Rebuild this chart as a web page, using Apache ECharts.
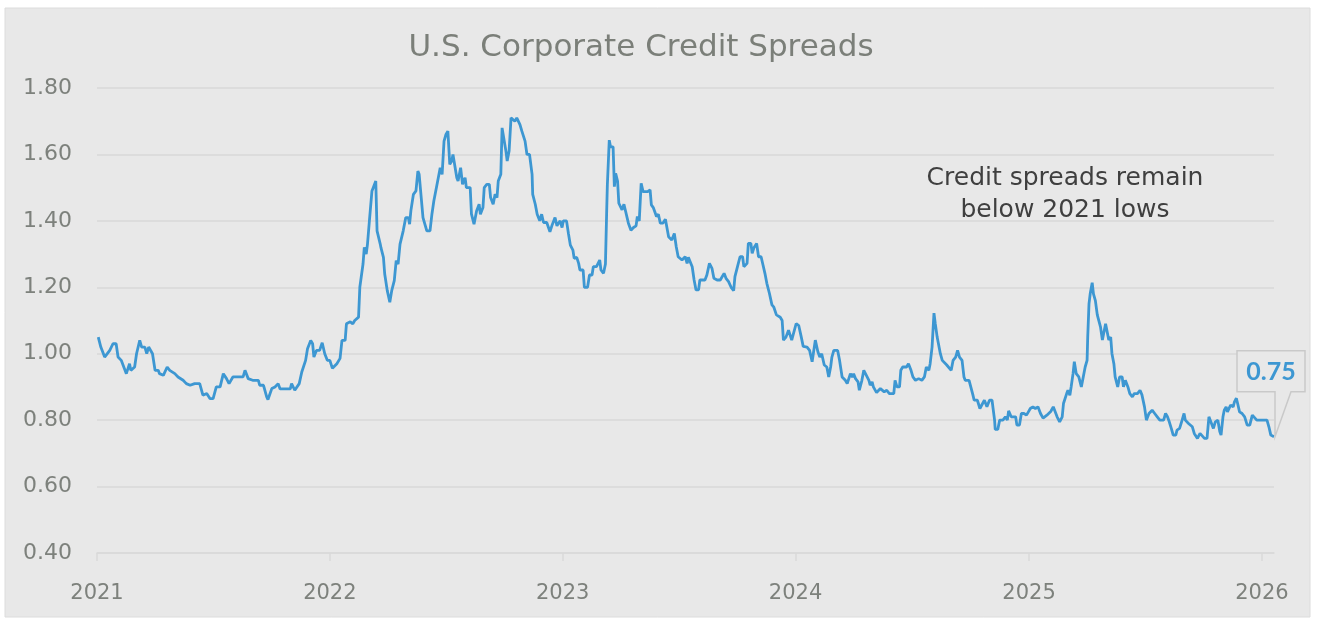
<!DOCTYPE html>
<html>
<head>
<meta charset="utf-8">
<script src="https://cdn.jsdelivr.net/npm/echarts@6/dist/echarts.min.js"></script>
<style>
  html, body { margin: 0; padding: 0; background: #ffffff; }
  #chart { width: 1317px; height: 622px; }
</style>
</head>
<body>
<div id="chart"></div>
<script>
// Corporate credit spread (percentage points), observations by date
const dates = [
  '2021-01-03','2021-01-07','2021-01-13','2021-01-16','2021-01-21','2021-01-26','2021-01-31','2021-02-03','2021-02-08','2021-02-10',
  '2021-02-16','2021-02-21','2021-02-23','2021-03-01','2021-03-04','2021-03-09','2021-03-12','2021-03-17','2021-03-20','2021-03-23',
  '2021-03-29','2021-04-02','2021-04-07','2021-04-09','2021-04-15','2021-04-21','2021-04-25','2021-05-03','2021-05-08','2021-05-16',
  '2021-05-21','2021-05-27','2021-06-03','2021-06-11','2021-06-16','2021-06-22','2021-06-27','2021-07-02','2021-07-07','2021-07-13',
  '2021-07-18','2021-07-23','2021-07-27','2021-08-02','2021-08-18','2021-08-21','2021-08-26','2021-09-02','2021-09-11','2021-09-13',
  '2021-09-19','2021-09-24','2021-09-26','2021-10-02','2021-10-07','2021-10-12','2021-10-15','2021-10-31','2021-11-02','2021-11-07',
  '2021-11-14','2021-11-18','2021-11-21','2021-11-24','2021-11-27','2021-12-02','2021-12-05','2021-12-07','2021-12-11','2021-12-16',
  '2021-12-20','2021-12-24','2021-12-28',
  '2022-01-01','2022-01-05','2022-01-12','2022-01-17','2022-01-20','2022-01-25','2022-01-27','2022-02-02','2022-02-06','2022-02-09',
  '2022-02-12','2022-02-15','2022-02-17','2022-02-20','2022-02-22','2022-02-24','2022-02-27','2022-03-01','2022-03-04','2022-03-08',
  '2022-03-10','2022-03-14','2022-03-16','2022-03-21','2022-03-22','2022-03-26','2022-03-28','2022-04-01','2022-04-05','2022-04-08',
  '2022-04-12','2022-04-15','2022-04-18','2022-04-21','2022-04-26','2022-04-30','2022-05-04','2022-05-06','2022-05-08','2022-05-12',
  '2022-05-16','2022-05-19','2022-05-21','2022-05-24','2022-05-27','2022-05-29','2022-06-02','2022-06-07','2022-06-10','2022-06-13',
  '2022-06-17','2022-06-20','2022-06-23','2022-06-26','2022-06-29','2022-07-02','2022-07-05','2022-07-08','2022-07-11','2022-07-13',
  '2022-07-19','2022-07-21','2022-07-25','2022-07-28','2022-08-01','2022-08-03','2022-08-09','2022-08-11','2022-08-15','2022-08-19',
  '2022-08-23','2022-08-25','2022-08-29','2022-08-31','2022-09-04','2022-09-08','2022-09-10','2022-09-14','2022-09-17','2022-09-20',
  '2022-09-22','2022-09-26','2022-09-28','2022-09-30','2022-10-04','2022-10-06','2022-10-09','2022-10-12','2022-10-15','2022-10-18',
  '2022-10-21','2022-10-26','2022-10-29','2022-11-03','2022-11-06','2022-11-10','2022-11-14','2022-11-15','2022-11-19','2022-11-22',
  '2022-11-26','2022-11-29','2022-12-02','2022-12-07','2022-12-12','2022-12-15','2022-12-20','2022-12-23','2022-12-28','2022-12-31',
  '2023-01-02','2023-01-07','2023-01-10','2023-01-13','2023-01-17','2023-01-19','2023-01-23','2023-01-26','2023-01-28','2023-02-02',
  '2023-02-04','2023-02-09','2023-02-12','2023-02-16','2023-02-18','2023-02-23','2023-02-28','2023-03-02','2023-03-06','2023-03-09',
  '2023-03-11','2023-03-12','2023-03-15','2023-03-17','2023-03-21','2023-03-23','2023-03-25','2023-03-28','2023-03-30','2023-04-04',
  '2023-04-07','2023-04-10','2023-04-14','2023-04-18','2023-04-22','2023-04-26','2023-04-28','2023-05-01','2023-05-04','2023-05-07',
  '2023-05-10','2023-05-14','2023-05-18','2023-05-20','2023-05-23','2023-05-28','2023-05-31','2023-06-03','2023-06-07','2023-06-11',
  '2023-06-13','2023-06-16','2023-06-21','2023-06-25','2023-06-28','2023-07-01','2023-07-07','2023-07-12','2023-07-15','2023-07-17',
  '2023-07-23','2023-07-26','2023-07-29','2023-08-02','2023-08-04','2023-08-12','2023-08-15','2023-08-19','2023-08-23','2023-08-26',
  '2023-08-31','2023-09-05','2023-09-11','2023-09-14','2023-09-18','2023-09-22','2023-09-26','2023-09-28','2023-10-02','2023-10-06',
  '2023-10-10','2023-10-12','2023-10-17','2023-10-19','2023-10-23','2023-10-25','2023-10-28','2023-11-01','2023-11-04','2023-11-08',
  '2023-11-11','2023-11-14','2023-11-17','2023-11-21','2023-11-25','2023-11-28','2023-12-02','2023-12-05','2023-12-08','2023-12-11',
  '2023-12-13','2023-12-17','2023-12-21','2023-12-24','2023-12-26','2023-12-29',
  '2024-01-02','2024-01-06','2024-01-10','2024-01-13','2024-01-19','2024-01-23','2024-01-27','2024-01-29','2024-02-01','2024-02-05',
  '2024-02-08','2024-02-11','2024-02-15','2024-02-19','2024-02-22','2024-02-25','2024-02-27','2024-03-01','2024-03-07','2024-03-10',
  '2024-03-14','2024-03-19','2024-03-22','2024-03-27','2024-03-30','2024-04-01','2024-04-04','2024-04-08','2024-04-10','2024-04-14',
  '2024-04-17','2024-04-21','2024-04-25','2024-04-27','2024-04-30','2024-05-02','2024-05-07','2024-05-13','2024-05-16','2024-05-19',
  '2024-05-23','2024-05-27','2024-06-03','2024-06-05','2024-06-08','2024-06-12','2024-06-14','2024-06-17','2024-06-23','2024-06-26',
  '2024-06-30','2024-07-03','2024-07-07','2024-07-12','2024-07-17','2024-07-21','2024-07-24','2024-07-28','2024-07-30','2024-08-02',
  '2024-08-05','2024-08-07','2024-08-10','2024-08-12','2024-08-15','2024-08-18','2024-08-21','2024-08-25','2024-08-28','2024-09-01',
  '2024-09-04','2024-09-08','2024-09-11','2024-09-14','2024-09-18','2024-09-21','2024-09-23','2024-09-29','2024-10-02','2024-10-05',
  '2024-10-07','2024-10-12','2024-10-16','2024-10-19','2024-10-23','2024-10-27','2024-10-31','2024-11-04','2024-11-08','2024-11-09',
  '2024-11-13','2024-11-16','2024-11-21','2024-11-25','2024-11-28','2024-11-30','2024-12-04','2024-12-07','2024-12-11','2024-12-13',
  '2024-12-17','2024-12-20','2024-12-24','2024-12-28','2024-12-31',
  '2025-01-03','2025-01-07','2025-01-11','2025-01-15','2025-01-19','2025-01-23','2025-01-29','2025-02-04','2025-02-08','2025-02-11',
  '2025-02-14','2025-02-18','2025-02-22','2025-02-24','2025-03-01','2025-03-03','2025-03-06','2025-03-08','2025-03-11','2025-03-13',
  '2025-03-16','2025-03-20','2025-03-24','2025-03-27','2025-03-30','2025-04-02','2025-04-03','2025-04-05','2025-04-07','2025-04-10',
  '2025-04-12','2025-04-15','2025-04-18','2025-04-20','2025-04-23','2025-04-26','2025-04-28','2025-05-01','2025-05-03','2025-05-06',
  '2025-05-09','2025-05-11','2025-05-14','2025-05-16','2025-05-20','2025-05-23','2025-05-27','2025-05-29','2025-06-01','2025-06-05',
  '2025-06-08','2025-06-12','2025-06-15','2025-06-20','2025-06-24','2025-06-27','2025-07-01','2025-07-04','2025-07-08','2025-07-13',
  '2025-07-17','2025-07-21','2025-07-25','2025-07-31','2025-08-03','2025-08-06','2025-08-08','2025-08-12','2025-08-15','2025-08-19',
  '2025-08-21','2025-08-25','2025-08-29','2025-09-01','2025-09-03','2025-09-08','2025-09-14','2025-09-17','2025-09-22','2025-09-26',
  '2025-09-29','2025-10-03','2025-10-07','2025-10-10','2025-10-13','2025-10-17','2025-10-20','2025-10-24','2025-10-27','2025-10-29',
  '2025-11-01','2025-11-03','2025-11-06','2025-11-08','2025-11-13','2025-11-17','2025-11-19','2025-11-22','2025-11-24','2025-11-27',
  '2025-12-01','2025-12-05','2025-12-09','2025-12-13','2025-12-17','2025-12-20','2025-12-24','2025-12-30',
  '2026-01-04','2026-01-09','2026-01-12','2026-01-15','2026-01-20'
];

const spreads = [
  1.05,1.02,0.99,0.99,1.01,1.03,1.03,0.99,0.98,0.975,
  0.94,0.97,0.95,0.96,1.00,1.04,1.02,1.02,1.00,1.02,
  1.00,0.95,0.95,0.94,0.935,0.96,0.95,0.94,0.93,0.92,
  0.91,0.905,0.91,0.91,0.875,0.88,0.865,0.865,0.90,0.90,
  0.94,0.925,0.91,0.93,0.93,0.95,0.925,0.92,0.92,0.905,
  0.905,0.87,0.862,0.895,0.90,0.91,0.894,0.894,0.91,0.89,
  0.91,0.945,0.945,0.98,1.015,1.04,1.03,0.99,1.01,1.01,
  1.033,1.00,0.98,
  0.98,0.956,0.97,0.986,1.04,1.04,1.09,1.096,1.09,1.10,
  1.106,1.11,1.20,1.205,1.27,1.32,1.30,1.33,1.40,1.49,
  1.50,1.52,1.37,1.33,1.32,1.29,1.24,1.19,1.155,1.19,
  1.22,1.28,1.27,1.33,1.37,1.41,1.41,1.39,1.43,1.48,
  1.49,1.55,1.54,1.54,1.41,1.41,1.37,1.37,1.42,1.46,
  1.50,1.50,1.56,1.54,1.64,1.66,1.67,1.57,1.58,1.60,
  1.53,1.52,1.56,1.51,1.53,1.50,1.50,1.42,1.39,1.43,
  1.45,1.42,1.44,1.50,1.51,1.51,1.47,1.45,1.48,1.47,
  1.52,1.54,1.68,1.685,1.61,1.58,1.61,1.71,1.71,1.70,
  1.71,1.69,1.67,1.64,1.60,1.60,1.54,1.48,1.45,1.42,
  1.40,1.42,1.395,1.395,1.367,1.385,1.41,1.385,1.40,1.38,
  1.40,1.40,1.362,1.327,1.312,1.287,1.29,1.272,1.252,1.252,
  1.20,1.20,1.237,1.237,1.262,1.262,1.282,1.252,1.242,1.27,
  1.433,1.508,1.643,1.623,1.623,1.503,1.543,1.52,1.453,1.433,
  1.45,1.45,1.393,1.372,1.38,1.385,1.413,1.40,1.513,1.488,
  1.49,1.488,1.493,1.448,1.44,1.413,1.42,1.393,1.393,1.405,
  1.41,1.352,1.342,1.362,1.322,1.292,1.282,1.292,1.272,1.29,
  1.262,1.222,1.192,1.192,1.222,1.222,1.237,1.272,1.257,1.227,
  1.222,1.222,1.242,1.227,1.217,1.20,1.19,1.232,1.262,1.292,
  1.292,1.262,1.272,1.332,1.332,1.302,1.32,1.332,1.292,1.292,
  1.267,1.242,1.212,1.182,1.147,1.14,1.117,1.12,1.11,1.10,
  1.041,1.05,1.071,1.071,1.041,1.04,
  1.091,1.085,1.05,1.022,1.02,1.01,0.976,0.98,1.041,1.006,
  0.99,1.00,0.966,0.96,0.93,0.96,0.99,1.01,1.01,0.98,
  0.93,0.92,0.91,0.94,0.93,0.94,0.925,0.915,0.89,0.92,
  0.95,0.935,0.92,0.905,0.915,0.90,0.883,0.895,0.90,0.885,
  0.89,0.88,0.88,0.92,0.90,0.90,0.95,0.96,0.96,0.97,
  0.95,0.93,0.92,0.925,0.92,0.93,0.96,0.95,0.97,1.02,
  1.122,1.091,1.05,1.05,1.00,0.98,0.98,0.966,0.96,0.95,
  0.98,0.99,1.01,0.99,0.98,0.93,0.92,0.92,0.92,0.876,
  0.86,0.86,0.835,0.84,0.86,0.84,0.86,0.86,0.80,0.772,
  0.772,0.80,0.80,0.81,0.80,0.828,0.81,0.815,0.81,0.785,
  0.785,0.82,0.82,0.815,0.825,
  0.835,0.84,0.835,0.84,0.82,0.806,0.815,0.826,0.84,0.835,
  0.81,0.795,0.81,0.85,0.88,0.89,0.875,0.90,0.94,0.976,
  0.94,0.93,0.90,0.93,0.96,0.98,1.05,1.15,1.182,1.214,
  1.18,1.16,1.117,1.12,1.081,1.041,1.04,1.09,1.085,1.041,
  1.05,1.00,0.97,0.93,0.90,0.93,0.93,0.90,0.92,0.90,
  0.88,0.87,0.88,0.88,0.89,0.876,0.84,0.80,0.82,0.83,
  0.82,0.81,0.80,0.80,0.82,0.81,0.80,0.775,0.755,0.755,
  0.77,0.775,0.80,0.82,0.80,0.79,0.78,0.76,0.745,0.76,
  0.76,0.745,0.745,0.81,0.815,0.775,0.795,0.80,0.766,0.755,
  0.81,0.83,0.84,0.825,0.845,0.84,0.855,0.866,0.85,0.825,
  0.82,0.81,0.785,0.785,0.815,0.81,0.80,0.80,
  0.80,0.80,0.78,0.755,0.75
];

const yTicks = { min: 0.4, max: 1.8, step: 0.2 };
const titleText = 'U.S. Corporate Credit Spreads';
const noteLines = ['Credit spreads remain', 'below 2021 lows'];

const BG = '#e8e8e8';
const AXIS_TEXT = '#7d817c';
const GRID_LINE = '#d9d9d9';
const LINE_BLUE = '#3d97d2';
const FONT = '"DejaVu Sans", sans-serif';
const LABEL_FONT = 'Lato, "DejaVu Sans", sans-serif';

const chart = echarts.init(document.getElementById('chart'), null, { renderer: 'canvas' });
const seriesData = dates.map((d, i) => [d, spreads[i]]);

chart.setOption({
  backgroundColor: '#ffffff',
  animation: false,
  grid: { left: 97, right: 43, top: 88, bottom: 69, containLabel: false },
  xAxis: {
    type: 'time',
    min: '2021-01-01',
    max: 'dataMax',
    minInterval: 365 * 24 * 3600 * 1000,
    maxInterval: 366 * 24 * 3600 * 1000,
    axisLine: { show: true, lineStyle: { color: GRID_LINE, width: 1.5 } },
    axisTick: { show: true, length: 8, lineStyle: { color: GRID_LINE, width: 1.5 } },
    splitLine: { show: false },
    axisLabel: {
      formatter: '{yyyy}',
      color: AXIS_TEXT, fontFamily: FONT, fontSize: 21, margin: 30,
      showMinLabel: true, showMaxLabel: false
    }
  },
  yAxis: {
    type: 'value',
    min: yTicks.min, max: yTicks.max, interval: yTicks.step,
    axisLine: { show: false },
    axisTick: { show: false },
    splitLine: { show: true, lineStyle: { color: GRID_LINE, width: 1.5 } },
    axisLabel: {
      formatter: v => v.toFixed(2),
      color: AXIS_TEXT, fontFamily: FONT, fontSize: 22, margin: 25
    }
  },
  series: [{
    type: 'line',
    data: seriesData,
    showSymbol: false,
    lineStyle: { color: LINE_BLUE, width: 2.8 },
    z: 5
  }]
});

// Panel, title, note and the callout for the latest reading
const lastIdx = spreads.length - 1;
const tip = chart.convertToPixel({ xAxisIndex: 0, yAxisIndex: 0 }, [dates[lastIdx], spreads[lastIdx]]);
const bx0 = tip[0] - 37, bx1 = tip[0] + 31, by0 = tip[1] - 86, by1 = tip[1] - 45;

chart.setOption({
  graphic: [
    {
      type: 'rect', z: -10, silent: true,
      shape: { x: 5, y: 8, width: 1305, height: 609 },
      style: { fill: BG, stroke: '#dcdcdc', lineWidth: 1 }
    },
    {
      type: 'text', silent: true, z: 10,
      x: 641, y: 48,
      style: {
        text: titleText, fill: '#7b7f79', font: '31px ' + FONT,
        textAlign: 'center', textVerticalAlign: 'middle', verticalAlign: 'middle'
      }
    },
    {
      type: 'text', silent: true, z: 10,
      x: 1065, y: 194,
      style: {
        text: noteLines.join('\n'), fill: '#3f3f3f', font: '25px ' + FONT, lineHeight: 32,
        textAlign: 'center', textVerticalAlign: 'middle', verticalAlign: 'middle'
      }
    },
    {
      type: 'polygon', silent: true, z: 8,
      shape: { points: [
        [bx0, by0], [bx1, by0], [bx1, by1], [tip[0] + 17, by1],
        [tip[0] + 1, tip[1]], [tip[0] + 1, by1], [bx0, by1]
      ] },
      style: { fill: BG, stroke: '#c9c9c9', lineWidth: 1.5 }
    },
    {
      type: 'text', silent: true, z: 9,
      x: (bx0 + bx1) / 2, y: (by0 + by1) / 2 + 1,
      style: {
        text: spreads[lastIdx].toFixed(2), fill: LINE_BLUE,
        font: 'bold 25px ' + LABEL_FONT,
        textAlign: 'center', textVerticalAlign: 'middle', verticalAlign: 'middle'
      }
    }
  ]
});
</script>
</body>
</html>
